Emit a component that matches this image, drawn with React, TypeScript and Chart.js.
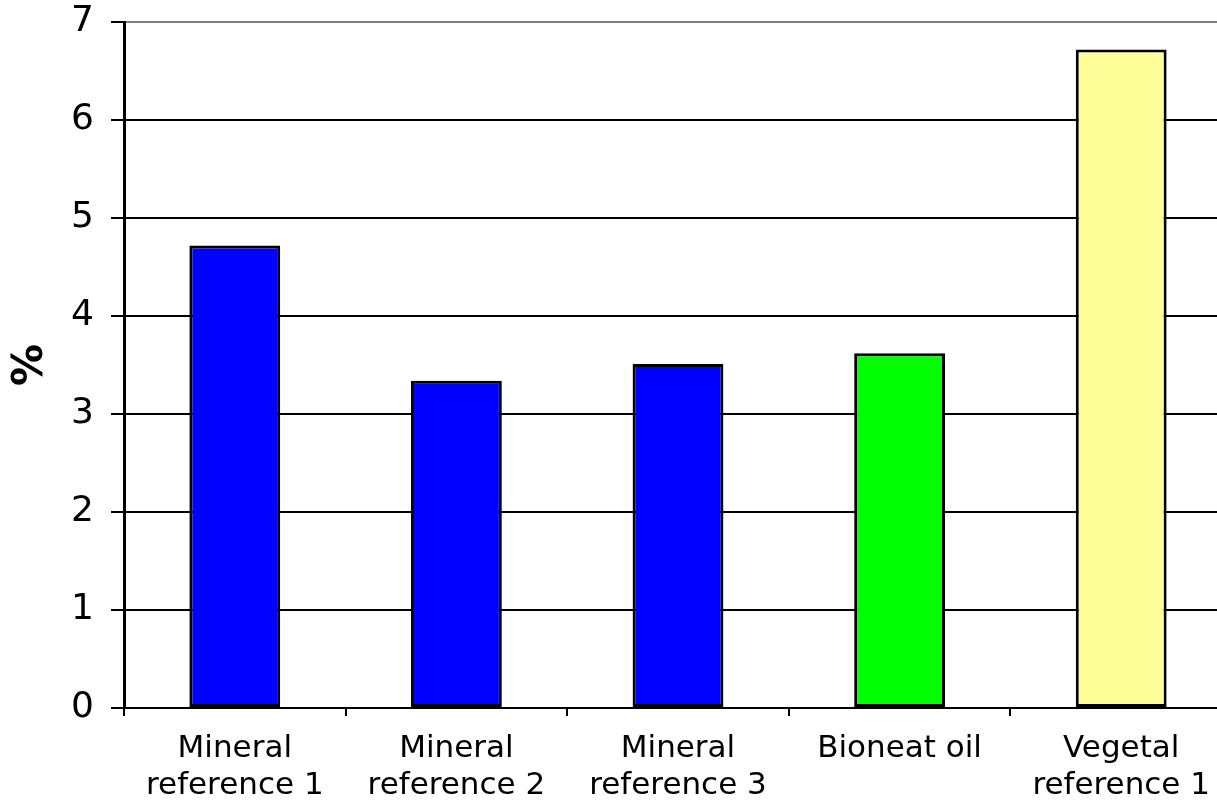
import React, { useEffect, useRef } from "react";
import { Chart, registerables } from "chart.js";

Chart.register(...registerables);

const categories: string[][] = [
  ["Mineral", "reference 1"],
  ["Mineral", "reference 2"],
  ["Mineral", "reference 3"],
  ["Bioneat oil"],
  ["Vegetal", "reference 1"],
];
const values: number[] = [4.72, 3.34, 3.51, 3.62, 6.72];
const barColors: string[] = ["#0000FF", "#0000FF", "#0000FF", "#00FF00", "#FFFF99"];
const yMin = 0;
const yMax = 7;
const yStep = 1;
const yTitle = "%";

const FONT = "'DejaVu Sans', Verdana, sans-serif";

export default function App() {
  const ref = useRef<HTMLCanvasElement | null>(null);

  useEffect(() => {
    if (!ref.current) return;
    const chart = new Chart(ref.current, {
      type: "bar",
      data: {
        labels: categories,
        datasets: [
          {
            data: values,
            backgroundColor: barColors,
            borderColor: "#000000",
            borderWidth: 3,
            borderSkipped: false,
            categoryPercentage: 1,
            barPercentage: 0.41,
          },
        ],
      },
      options: {
        responsive: false,
        animation: false,
        devicePixelRatio: 1,
        layout: { padding: { top: 22, left: 0, right: 0, bottom: 0 } },
        plugins: {
          legend: { display: false },
          tooltip: { enabled: false },
        },
        scales: {
          x: {
            offset: true,
            grid: {
              offset: true,
              drawOnChartArea: false,
              drawTicks: true,
              tickLength: 8,
              color: "#000000",
              lineWidth: 2,
            },
            border: { display: true, color: "#000000", width: 2 },
            ticks: {
              color: "#000000",
              padding: 14,
              maxRotation: 0,
              autoSkip: false,
              font: { family: FONT, size: 31, lineHeight: 1.2 },
            },
            afterFit: (scale: any) => {
              scale.height = 93;
              scale.paddingLeft = 0;
              scale.paddingRight = 0;
            },
          },
          y: {
            min: yMin,
            max: yMax,
            ticks: {
              stepSize: yStep,
              color: "#000000",
              padding: 17,
              font: { family: FONT, size: 36 },
            },
            grid: {
              color: (ctx: any) => (ctx.tick && ctx.tick.value === yMax ? "#7f7f7f" : "#000000"),
              tickColor: "#000000",
              lineWidth: 2,
              tickLength: 13,
            },
            border: { display: true, color: "#000000", width: 3 },
            title: {
              display: true,
              text: yTitle,
              color: "#000000",
              padding: { top: 6, bottom: 0 },
              font: { family: FONT, size: 42, weight: "bold" },
            },
            afterFit: (scale: any) => {
              scale.width = 124;
              scale.paddingTop = 0;
              scale.paddingBottom = 0;
            },
          },
        },
      },
    });
    return () => chart.destroy();
  }, []);

  return (
    <div
      style={{
        position: "fixed",
        left: 0,
        top: 0,
        width: 1217,
        height: 801,
        overflow: "hidden",
        background: "#ffffff",
      }}
    >
      <canvas ref={ref} width={1232} height={801} style={{ width: 1232, height: 801, display: "block" }} />
    </div>
  );
}
